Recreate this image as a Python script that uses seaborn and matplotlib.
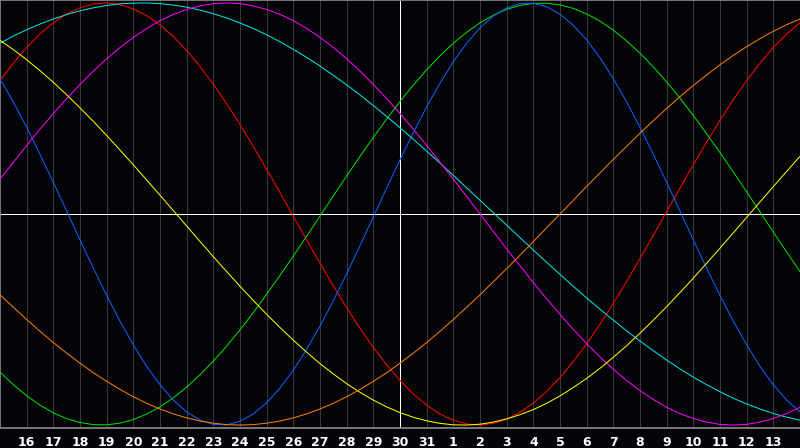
import matplotlib
matplotlib.use("Agg")
import matplotlib.pyplot as plt
import pandas as pd
import seaborn as sns

# half-day steps from the left edge of the chart (left edge = the 15th)
days = [i * 0.5 for i in range(61)]
tick_days = list(range(1, 30))
tick_labels = ["16", "17", "18", "19", "20", "21", "22", "23", "24", "25",
               "26", "27", "28", "29", "30", "31", "1", "2", "3", "4",
               "5", "6", "7", "8", "9", "10", "11", "12", "13"]
today = 15

# values every half day (-1 .. 1)
physical = [0.641, 0.531, 0.411, 0.283, 0.150, 0.014, -0.123, -0.257, -0.386, -0.508,
            -0.620, -0.722, -0.809, -0.882, -0.938, -0.976, -0.997, -0.999, -0.982, -0.947,
            -0.894, -0.825, -0.740, -0.641, -0.531, -0.411, -0.283, -0.150, -0.014, 0.123,
            0.257, 0.386, 0.508, 0.620, 0.722, 0.809, 0.882, 0.938, 0.976, 0.997,
            0.999, 0.982, 0.947, 0.894, 0.825, 0.740, 0.641, 0.531, 0.411, 0.283,
            0.150, 0.014, -0.123, -0.257, -0.386, -0.508, -0.620, -0.722, -0.809, -0.882,
            -0.938]
emotional = [0.632, 0.715, 0.789, 0.853, 0.906, 0.948, 0.977, 0.995, 1.000, 0.992,
             0.972, 0.940, 0.896, 0.841, 0.775, 0.699, 0.615, 0.522, 0.424, 0.320,
             0.211, 0.101, -0.011, -0.123, -0.233, -0.341, -0.444, -0.542, -0.632, -0.715,
             -0.789, -0.853, -0.906, -0.948, -0.977, -0.995, -1.000, -0.992, -0.972, -0.940,
             -0.896, -0.841, -0.775, -0.699, -0.615, -0.522, -0.424, -0.320, -0.211, -0.101,
             0.011, 0.123, 0.233, 0.341, 0.444, 0.542, 0.632, 0.715, 0.789, 0.853,
             0.906]
intellectual = [-0.749, -0.809, -0.861, -0.906, -0.942, -0.970, -0.988, -0.998, -0.999, -0.991,
                -0.974, -0.948, -0.914, -0.871, -0.820, -0.762, -0.697, -0.626, -0.549, -0.467,
                -0.380, -0.291, -0.199, -0.105, -0.010, 0.086, 0.180, 0.273, 0.363, 0.450,
                0.533, 0.611, 0.683, 0.750, 0.809, 0.861, 0.906, 0.942, 0.970, 0.988,
                0.998, 0.999, 0.991, 0.974, 0.948, 0.914, 0.871, 0.820, 0.762, 0.697,
                0.626, 0.549, 0.467, 0.380, 0.291, 0.199, 0.105, 0.010, -0.086, -0.180,
                -0.273]
spiritual = [0.809, 0.843, 0.873, 0.900, 0.924, 0.945, 0.963, 0.977, 0.988, 0.996,
             0.999, 1.000, 0.997, 0.990, 0.980, 0.966, 0.949, 0.929, 0.905, 0.879,
             0.849, 0.816, 0.780, 0.742, 0.701, 0.657, 0.612, 0.564, 0.514, 0.462,
             0.409, 0.354, 0.298, 0.241, 0.183, 0.124, 0.065, 0.006, -0.053, -0.112,
             -0.171, -0.229, -0.286, -0.343, -0.398, -0.451, -0.503, -0.554, -0.602, -0.648,
             -0.692, -0.734, -0.773, -0.809, -0.842, -0.873, -0.900, -0.924, -0.945, -0.963,
             -0.977]
intuitive = [0.165, 0.245, 0.325, 0.402, 0.476, 0.547, 0.614, 0.677, 0.736, 0.789,
             0.837, 0.879, 0.916, 0.946, 0.969, 0.986, 0.997, 1.000, 0.997, 0.986,
             0.969, 0.946, 0.916, 0.879, 0.837, 0.789, 0.736, 0.677, 0.614, 0.547,
             0.476, 0.402, 0.325, 0.245, 0.165, 0.083, 0.000, -0.083, -0.165, -0.245,
             -0.325, -0.402, -0.476, -0.547, -0.614, -0.677, -0.736, -0.789, -0.837, -0.879,
             -0.916, -0.946, -0.969, -0.986, -0.997, -1.000, -0.997, -0.986, -0.969, -0.946,
             -0.916]
aesthetic = [0.823, 0.779, 0.731, 0.679, 0.624, 0.565, 0.503, 0.439, 0.372, 0.303,
             0.233, 0.161, 0.089, 0.016, -0.057, -0.130, -0.202, -0.273, -0.342, -0.410,
             -0.475, -0.538, -0.598, -0.655, -0.709, -0.758, -0.804, -0.845, -0.882, -0.914,
             -0.941, -0.963, -0.980, -0.992, -0.999, -1.000, -0.996, -0.986, -0.971, -0.951,
             -0.927, -0.897, -0.862, -0.822, -0.779, -0.731, -0.679, -0.624, -0.565, -0.503,
             -0.439, -0.372, -0.304, -0.233, -0.162, -0.089, -0.016, 0.057, 0.130, 0.202,
             0.273]
awareness = [-0.383, -0.442, -0.500, -0.556, -0.609, -0.659, -0.707, -0.752, -0.793, -0.831,
             -0.866, -0.897, -0.924, -0.947, -0.966, -0.981, -0.991, -0.998, -1.000, -0.998,
             -0.991, -0.981, -0.966, -0.947, -0.924, -0.897, -0.866, -0.831, -0.793, -0.752,
             -0.707, -0.659, -0.609, -0.556, -0.500, -0.442, -0.383, -0.321, -0.259, -0.195,
             -0.131, -0.065, 0.000, 0.065, 0.131, 0.195, 0.259, 0.321, 0.383, 0.442,
             0.500, 0.556, 0.609, 0.659, 0.707, 0.752, 0.793, 0.831, 0.866, 0.897,
             0.924]

series = {
    "Emotional": emotional,
    "Intellectual": intellectual,
    "Physical": physical,
    "Spiritual": spiritual,
    "Intuitive": intuitive,
    "Aesthetic": aesthetic,
    "Awareness": awareness,
}
colors = {
    "Emotional": "#ff0000",
    "Intellectual": "#00e000",
    "Physical": "#0a64ff",
    "Spiritual": "#00e8e8",
    "Intuitive": "#ff00ff",
    "Aesthetic": "#ffff00",
    "Awareness": "#ff8000",
}

rows = []
for name, vals in series.items():
    if len(vals) != len(days):
        raise ValueError(f"{name}: {len(vals)} values")
    for d, v in zip(days, vals):
        rows.append({"day": d, "value": v, "cycle": name})
df = pd.DataFrame(rows)

bg = "#050408"
px = 0.72  # one pixel in points at dpi 100
sns.set_style("dark", {"axes.facecolor": bg, "figure.facecolor": bg,
                       "axes.edgecolor": "#8c8c8c", "axes.grid": False})
plt.rcParams["font.family"] = ["DejaVu Sans"]

fig = plt.figure(figsize=(8, 4.48), dpi=100)
ax = fig.add_axes([0, 20 / 448, 1, 428 / 448])

# day grid
for d in tick_days:
    ax.axvline(d, color="#3a3a3a", lw=px, zorder=1)
ax.axvline(today, color="white", lw=px, zorder=2)
ax.axhline(0, color="white", lw=px, zorder=2)

sns.lineplot(data=df, x="day", y="value", hue="cycle", palette=colors,
             legend=False, lw=px, ax=ax, zorder=3, sort=True)

ax.set_xlim(0, 30)
ax.set_ylim(-1.014, 1.014)
ax.set_xticks(tick_days)
ax.set_xticklabels(tick_labels, color="white", fontsize=9, fontweight="bold")
ax.tick_params(axis="x", length=0, pad=6)
ax.set_yticks([])
ax.set_xlabel("")
ax.set_ylabel("")
ax.spines["right"].set_visible(False)
for s in ["left", "top", "bottom"]:
    ax.spines[s].set_linewidth(1.2)

fig.savefig("out.png", dpi=100, facecolor=bg)
